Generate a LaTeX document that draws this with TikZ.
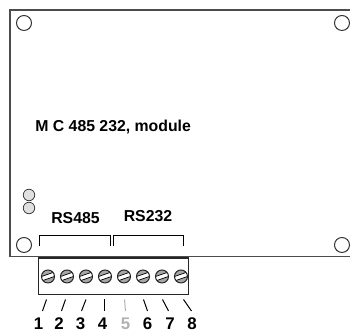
\documentclass[tikz,border=0pt]{standalone}
\usepackage{fontspec}
\setmainfont{Liberation Sans}
\usetikzlibrary{positioning}
\usetikzlibrary{calc}
\tikzset{
  boardline/.style={line width=0.03cm,black!70},
  hole/.style={circle,draw,line width=0.02cm,black!80,inner sep=0pt,minimum size=0.3cm},
  led/.style={circle,draw,line width=0.015cm,black!80,fill=black!12,inner sep=0pt,minimum size=0.23cm},
  screw/.style={circle,draw,line width=0.02cm,black!85,fill=black!35,inner sep=0pt,minimum size=0.26cm,
    path picture={
      \begin{scope}[shift={(path picture bounding box.center)}]
      \fill[white](-0.2,-0.11)--(0.2,0.03)--(0.2,0.11)--(-0.2,-0.03)--cycle;
      \draw[black,line width=0.014cm](-0.2,-0.115)--(0.2,0.025);
      \draw[black,line width=0.014cm](-0.2,-0.025)--(0.2,0.115);
      \end{scope}
    }},
  bracket/.style={line width=0.02cm,black},
  tick/.style={line width=0.02cm,black},
  pinlabel/.style={font=\bfseries\fontsize{9.6}{11}\selectfont,inner sep=0pt},
  portlabel/.style={font=\bfseries\fontsize{9}{11}\selectfont,inner sep=0pt}
}
\begin{document}
\begin{tikzpicture}
\useasboundingbox (0,0) rectangle (7,6.62);
% board
\draw[boardline](7,6.42)--(0.2,6.42)--(0.2,1.49)--(7,1.49);
\node[hole] (h1) at (0.48,6.16) {};
\node[hole] (h2) at (6.84,6.16) {};
\node[hole] (h3) at (0.48,1.72) {};
\node[hole] (h4) at (6.84,1.72) {};
\node[led] (l1) at (0.58,2.72) {};
\node[led] (l2) at (0.58,2.46) {};

\node[portlabel,anchor=west] (title) at (0.7,4.08) {M C 485 232, module};
\node[portlabel] (rs485) at (1.51,2.26) {RS485};
\node[portlabel] (rs232) at (2.96,2.30) {RS232};

\draw[bracket](0.8,1.7)--(0.8,1.9)--(2.21,1.9)--(2.21,1.7);
\draw[bracket](2.27,1.7)--(2.27,1.9)--(3.68,1.9)--(3.68,1.7);

% terminal block
\draw[line width=0.02cm,black!85](0.77,1.46)rectangle(3.78,0.72);
\draw[line width=0.05cm,black!85](0.77,1.46)--(3.78,1.46);
\node[screw] (s1) at (0.96,1.09) {};
\node[screw] (s2) at (1.34,1.09) {};
\node[screw] (s3) at (1.72,1.09) {};
\node[screw] (s4) at (2.10,1.09) {};
\node[screw] (s5) at (2.48,1.09) {};
\node[screw] (s6) at (2.86,1.09) {};
\node[screw] (s7) at (3.24,1.09) {};
\node[screw] (s8) at (3.62,1.09) {};

% pin numbers
\node[pinlabel] (p1) at (0.77,0.14) {1};
\node[pinlabel] (p2) at (1.18,0.14) {2};
\node[pinlabel] (p3) at (1.61,0.14) {3};
\node[pinlabel] (p4) at (2.05,0.14) {4};
\node[pinlabel,black!30] (p5) at (2.51,0.14) {5};
\node[pinlabel] (p6) at (2.95,0.14) {6};
\node[pinlabel] (p7) at (3.40,0.14) {7};
\node[pinlabel] (p8) at (3.84,0.14) {8};

\coordinate (t1) at (0.93,0.63);
\coordinate (t2) at (1.31,0.63);
\coordinate (t3) at (1.72,0.63);
\coordinate (t4) at (2.09,0.63);
\coordinate (t5) at (2.49,0.63);
\coordinate (t6) at (2.87,0.63);
\coordinate (t7) at (3.25,0.63);
\coordinate (t8) at (3.67,0.63);
\coordinate (b1) at (0.85,0.4);
\coordinate (b2) at (1.23,0.4);
\coordinate (b3) at (1.63,0.4);
\coordinate (b4) at (2.09,0.4);
\coordinate (b5) at (2.51,0.4);
\coordinate (b6) at (2.95,0.4);
\coordinate (b7) at (3.37,0.4);
\coordinate (b8) at (3.83,0.4);
\draw[tick](t1)--(b1);
\draw[tick](t2)--(b2);
\draw[tick](t3)--(b3);
\draw[tick](t4)--(b4);
\draw[tick,black!30](t5)--(b5);
\draw[tick](t6)--(b6);
\draw[tick](t7)--(b7);
\draw[tick](t8)--(b8);
\end{tikzpicture}
\end{document}
